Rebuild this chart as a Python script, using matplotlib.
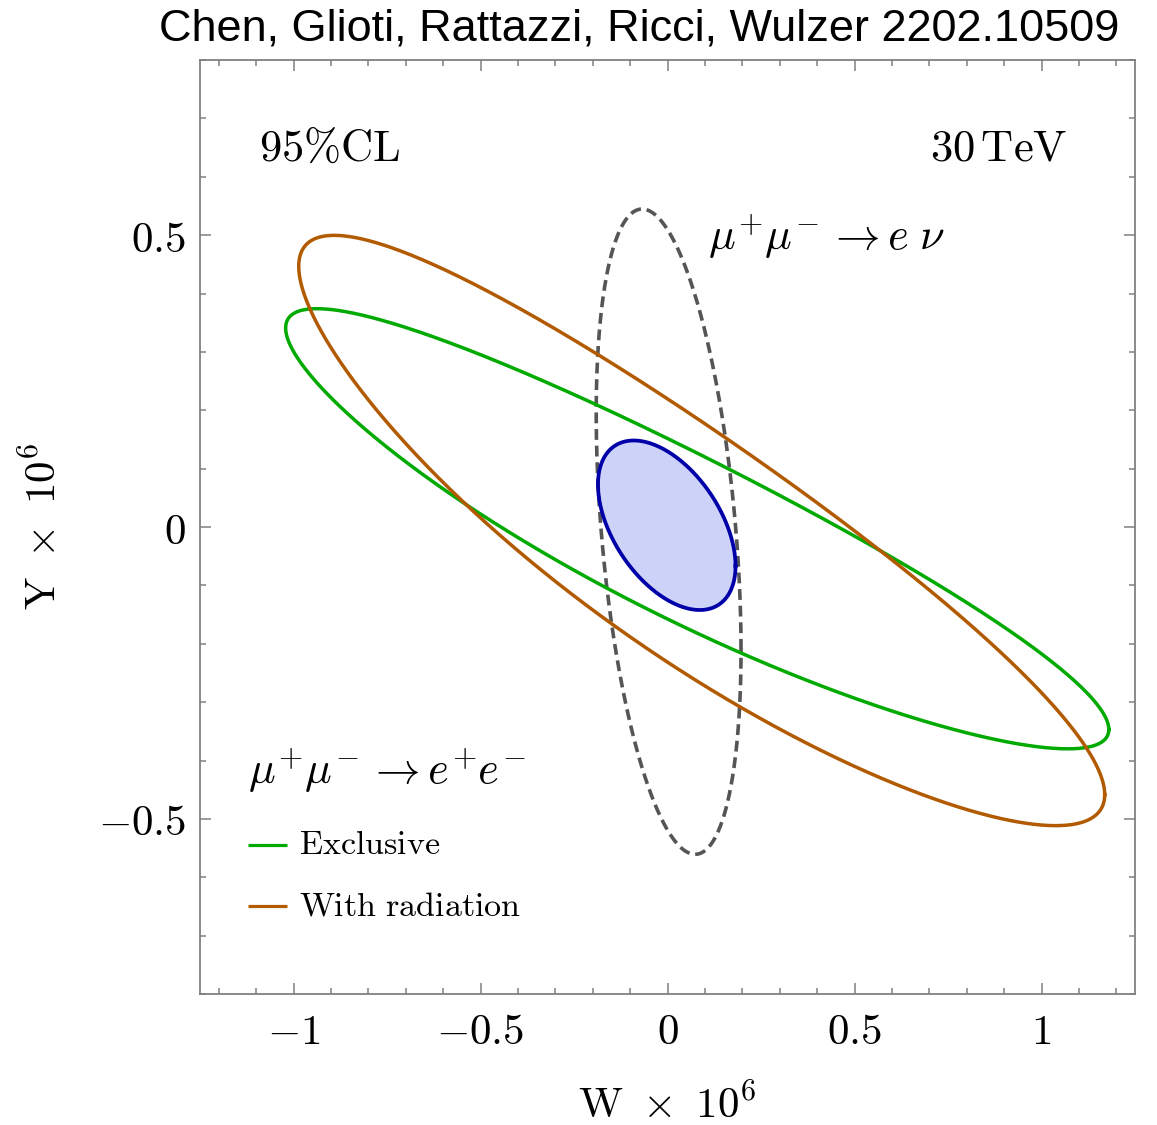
import numpy as np
import matplotlib
matplotlib.use("Agg")
import matplotlib.pyplot as plt
from matplotlib.ticker import FixedLocator, FixedFormatter, MultipleLocator

plt.rcParams["mathtext.fontset"] = "cm"
plt.rcParams["font.family"] = ["DejaVu Sans"]

# 95% CL contours in the (W, Y) plane, values x 10^6.
# Each contour: centre, half extents along W and Y, W-Y correlation,
# and a shift of the two far ends along W (the contours bend slightly).
contour_names = ["exclusive", "with_radiation", "e_nu", "combined"]
center_w = [0.0, 0.0, 0.003, -0.002]
center_y = [-0.003, -0.006, -0.008, 0.003]
half_w = [1.1005, 1.0775, 0.1936, 0.1839]
half_y = [0.377, 0.5056, 0.5527, 0.1452]
rho = [-0.912, -0.895, -0.366, -0.48]
end_shift_w = [0.0795, 0.0915, 0.0, 0.0]

edge_colors = ["#00aa00", "#b25a00", "#555555", "#0000a8"]
face_colors = [None, None, None, "#cdd2f8"]
line_styles = ["-", "-", (0, (3.0, 1.6)), "-"]
line_widths = [2.5, 2.5, 2.6, 2.7]

x_major = [-1, -0.5, 0, 0.5, 1]
x_major_labels = [r"$-1$", r"$-0.5$", r"$0$", r"$0.5$", r"$1$"]
y_major = [-0.5, 0, 0.5]
y_major_labels = [r"$-0.5$", r"$0$", r"$0.5$"]

legend_labels = [r"$\mathrm{Exclusive}$", r"$\mathrm{With\ radiation}$"]

fig = plt.figure(figsize=(11.57, 11.25), dpi=100)
ax = fig.add_axes([200 / 1157, 131 / 1125, 935 / 1157, 934 / 1125])
ax.set_xlim(-1.25, 1.25)
ax.set_ylim(-0.8, 0.8)

t = np.linspace(0.0, 2.0 * np.pi, 1441)


def contour_points(i):
    c = np.cos(t)
    s = np.sin(t)
    w = center_w[i] + half_w[i] * c + end_shift_w[i] * c ** 2
    y = center_y[i] + half_y[i] * (rho[i] * c + np.sqrt(1 - rho[i] ** 2) * s)
    return w, y


# filled combined region first, outlines on top
for i in [3, 2, 0, 1]:
    w, y = contour_points(i)
    if face_colors[i] is not None:
        ax.fill(w, y, color=face_colors[i], linewidth=0, zorder=2)
    ax.plot(w, y, color=edge_colors[i], linestyle=line_styles[i],
            linewidth=line_widths[i], zorder=3 + (i == 3))

# frame and ticks
for sp in ax.spines.values():
    sp.set_color("#808080")
    sp.set_linewidth(1.3)
ax.xaxis.set_major_locator(FixedLocator(x_major))
ax.xaxis.set_major_formatter(FixedFormatter(x_major_labels))
ax.yaxis.set_major_locator(FixedLocator(y_major))
ax.yaxis.set_major_formatter(FixedFormatter(y_major_labels))
ax.xaxis.set_minor_locator(MultipleLocator(0.1))
ax.yaxis.set_minor_locator(MultipleLocator(0.1))
ax.tick_params(which="both", direction="in", top=True, right=True,
               color="#808080", width=1.1, labelsize=31)
ax.tick_params(which="major", length=8)
ax.tick_params(which="minor", length=4)
ax.tick_params(axis="x", which="major", pad=12)
ax.tick_params(axis="y", which="major", pad=10)

# annotations
txt = dict(fontsize=32, color="black")
ax.text(-1.093, 0.628, r"$95\%\mathrm{CL}$", ha="left", va="baseline", **txt)
ax.text(1.070, 0.628, r"$30\,\mathrm{TeV}$", ha="right", va="baseline", **txt)
ax.text(0.108, 0.474, r"$\mu^{\!+}\!\mu^{\!-}\rightarrow e\;\nu$", ha="left",
        va="baseline", **txt)
ax.text(-1.121, -0.44, r"$\mu^{\!+}\!\mu^{\!-}\rightarrow e^{\!+}\!e^{\!-}$",
        ha="left", va="baseline", **txt)

# legend entries
leg_y = [-0.544, -0.650]
for k in range(2):
    ax.plot([-1.121, -1.017], [leg_y[k], leg_y[k]], color=edge_colors[k],
            linewidth=2.3, solid_capstyle="butt")
    ax.text(-0.985, leg_y[k], legend_labels[k], ha="left", va="center",
            fontsize=24.5)

# axis labels
fig.text(667 / 1157, 7 / 1125, r"$\mathrm{W}\ \times\ 10^6$", ha="center",
         va="baseline", fontsize=31)
fig.text(44 / 1157, 598 / 1125, r"$\mathrm{Y}\ \times\ 10^6$", ha="center",
         va="center", rotation=90, fontsize=31)

# header
fig.text(639 / 1157, 1 - 40 / 1125,
         "Chen, Glioti, Rattazzi, Ricci, Wulzer 2202.10509",
         ha="center", va="baseline", fontsize=32.5,
         family=["Liberation Sans", "DejaVu Sans"])

fig.savefig("out.png", dpi=100)
